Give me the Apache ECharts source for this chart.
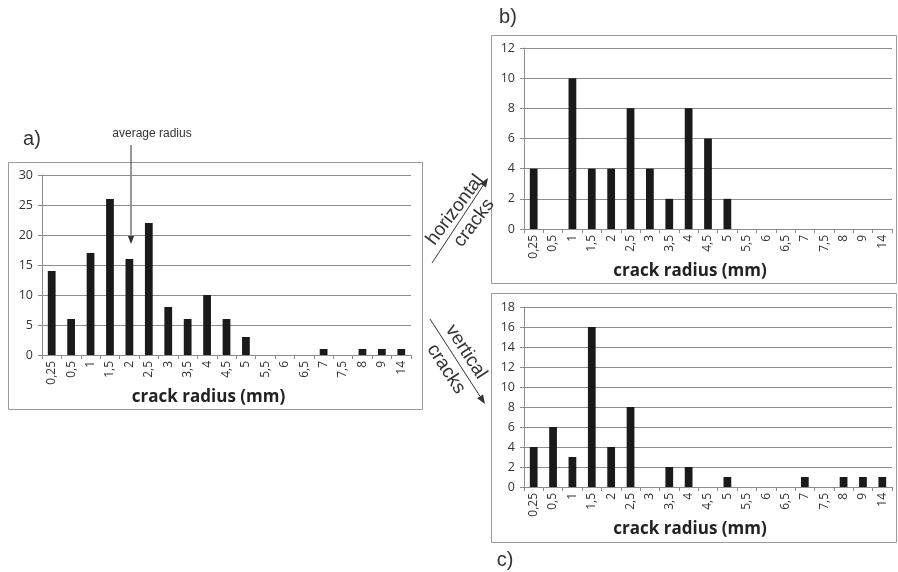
<!DOCTYPE html>
<html>
<head>
<meta charset="utf-8">
<script src="https://cdn.jsdelivr.net/npm/echarts@6/dist/echarts.min.js"></script>
<style>
  html, body { margin: 0; padding: 0; background: #fff; }
  #chart { width: 898px; height: 572px; }
</style>
</head>
<body>
<div id="chart"></div>
<script>
// crack radius classes (mm), same for all three panels
const radii = ["0,25", "0,5", "1", "1,5", "2", "2,5", "3", "3,5", "4", "4,5", "5", "5,5", "6", "6,5", "7", "7,5", "8", "9", "14"];

// a) all cracks
const allCracks = [14, 6, 17, 26, 16, 22, 8, 6, 10, 6, 3, 0, 0, 0, 1, 0, 1, 1, 1];
// b) horizontal cracks
const horizontalCracks = [4, 0, 10, 4, 4, 8, 4, 2, 8, 6, 2, 0, 0, 0, 0, 0, 0, 0, 0];
// c) vertical cracks
const verticalCracks = [4, 6, 3, 16, 4, 8, 0, 2, 2, 0, 1, 0, 0, 0, 1, 0, 1, 1, 1];

// y axis ranges
const yMax = [30, 12, 18];
const yStep = [5, 2, 2];

const chart = echarts.init(document.getElementById("chart"));

const gridLine = "#8c8c8c";
const font = "'Open Sans', 'Liberation Sans', sans-serif";

function xAxisFor(i) {
  return {
    type: "category",
    gridIndex: i,
    data: radii,
    name: "crack radius (mm)",
    nameLocation: "middle",
    nameGap: 22,
    // title sits a little left of the plot centre in the original
    nameTextStyle: { fontFamily: font, fontWeight: "bold", fontSize: 17, color: "#222", padding: [0, 36, 0, 0] },
    axisLine: { lineStyle: { color: gridLine } },
    axisTick: { show: true, length: 4, lineStyle: { color: gridLine } },
    axisLabel: { rotate: 90, interval: 0, fontFamily: font, fontSize: 12, color: "#333", margin: 6 }
  };
}

function yAxisFor(i) {
  return {
    type: "value",
    gridIndex: i,
    min: 0,
    max: yMax[i],
    interval: yStep[i],
    axisLine: { show: true, lineStyle: { color: gridLine } },
    axisTick: { show: true, length: 4, lineStyle: { color: gridLine } },
    splitLine: { lineStyle: { color: gridLine, width: 1 } },
    axisLabel: { fontFamily: font, fontSize: 12.5, color: "#333", margin: 9 }
  };
}

function bars(i, values) {
  return {
    type: "bar",
    xAxisIndex: i,
    yAxisIndex: i,
    data: values,
    barWidth: "40%",
    itemStyle: { color: "#1a1a1a" }
  };
}

// arrow helper for annotation arrows
function arrow(x1, y1, x2, y2) {
  const a = Math.atan2(y2 - y1, x2 - x1);
  const len = 9, half = 3.5;
  const bx = x2 - len * Math.cos(a), by = y2 - len * Math.sin(a);
  return [
    { type: "line", shape: { x1: x1, y1: y1, x2: bx, y2: by }, style: { stroke: "#333", lineWidth: 1 } },
    { type: "polygon", shape: { points: [
        [x2, y2],
        [bx + half * Math.sin(a), by - half * Math.cos(a)],
        [bx - half * Math.sin(a), by + half * Math.cos(a)]
      ] }, style: { fill: "#333" } }
  ];
}

function box(x, y, w, h) {
  return { type: "rect", shape: { x: x, y: y, width: w, height: h }, style: { fill: null, stroke: "#9a9a9a", lineWidth: 1 }, z: -1 };
}

function label(text, x, y, size, rot) {
  return {
    type: "text", x: x, y: y, rotation: rot || 0,
    style: { text: text, fontFamily: "'Liberation Sans', Arial, sans-serif", fontSize: size, fill: "#333", align: "center", verticalAlign: "middle" }
  };
}

const deg = Math.PI / 180;

const option = {
  animation: false,
  backgroundColor: "#fff",
  grid: [
    { left: 42, top: 175, width: 369, height: 180 },
    { left: 524, top: 48, width: 368, height: 181 },
    { left: 524, top: 307, width: 368, height: 180 }
  ],
  xAxis: [xAxisFor(0), xAxisFor(1), xAxisFor(2)],
  yAxis: [yAxisFor(0), yAxisFor(1), yAxisFor(2)],
  series: [bars(0, allCracks), bars(1, horizontalCracks), bars(2, verticalCracks)],
  graphic: [
    box(8.5, 162.5, 414, 247),
    box(491.5, 35.5, 405, 248),
    box(491.5, 293.5, 405, 249),
    label("a)", 32, 139, 20),
    label("b)", 508, 17, 20),
    label("c)", 505, 560, 20),
    label("average radius", 152, 134, 12),
    ...arrow(131, 145, 131, 244),
    label("horizontal", 455, 210, 19, 53 * deg),
    label("cracks", 474, 223, 19, 53 * deg),
    ...arrow(432, 263, 488, 178),
    label("vertical", 466, 352, 19, -57 * deg),
    label("cracks", 446, 369, 19, -57 * deg),
    ...arrow(430, 319, 485, 404)
  ]
};

chart.setOption(option);
</script>
</body>
</html>
